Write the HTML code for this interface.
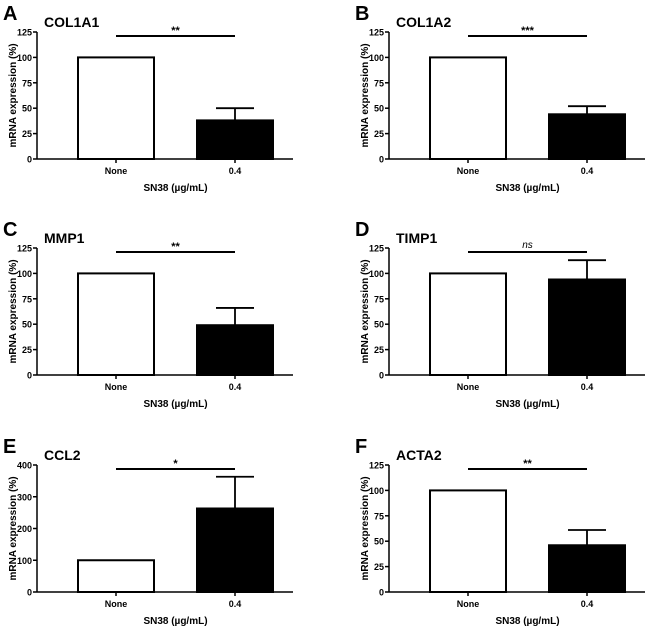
<!DOCTYPE html>
<html><head><meta charset="utf-8"><style>
body{margin:0;background:#fff}
svg{display:block;font-family:"Liberation Sans",Arial,sans-serif;font-weight:bold}
</style></head><body>
<svg id="fig" width="668" height="627" viewBox="0 0 668 627"></svg>
<script>
const panelLetters=["A","B","C","D","E","F"];
const geneNames=["COL1A1","COL1A2","MMP1","TIMP1","CCL2","ACTA2"];
const categories=["None","0.4"];
const controlValues=[100,100,100,100,100,100];
const treatedValues=[38,44,49,94,263,46];
const treatedErrorTop=[50,52,66,113,363,61];
const axisMax=[125,125,125,125,400,125];
const tickStep=[25,25,25,25,100,25];
const sigLabels=["**","***","**","ns","*","**"];
const NS="http://www.w3.org/2000/svg";
const svg=document.getElementById('fig');
function mk(tag,attrs,parent,text){const e=document.createElementNS(NS,tag);for(const k in attrs)e.setAttribute(k,attrs[k]);if(text!==undefined)e.textContent=text;parent.appendChild(e);return e;}
for(let i=0;i<6;i++){
  const ox=(i%2)*352, oy=[0,216,433][Math.floor(i/2)];
  const g=mk('g',{transform:`translate(${ox},${oy})`},svg);
  
  
  const x0=37,xEnd=293,yTop=32,yBot=159;
  const ys=v=>yBot-(v/axisMax[i])*(yBot-yTop);
  const xc=[116,235];
  const L=mk('text',{x:3,y:20,'font-size':20},g,panelLetters[i]);
  
  
  const T=mk('text',{x:44,y:27,'font-size':14},g,geneNames[i]);
  
  
  const yt=mk('text',{transform:`translate(16,${(yTop+yBot)/2}) rotate(-90)`,'text-anchor':'middle','font-size':10},g,'mRNA expression (%)');
  
  
  const ya=mk('line',{x1:x0,y1:yTop,x2:x0,y2:yBot,stroke:'#000','stroke-width':1.5},g);
  
  
  const xa=mk('line',{x1:x0,y1:yBot,x2:xEnd,y2:yBot,stroke:'#000','stroke-width':1.5},g);
  
  
  for(let v=0;v<=axisMax[i];v+=tickStep[i]){
    const y=ys(v);
    mk('line',{x1:x0-4,y1:y,x2:x0,y2:y,stroke:'#000','stroke-width':1.5},g);
    const t=mk('text',{x:x0-5,y:y+3.5,'text-anchor':'end','font-size':9},g,String(v));
    
    
  }
  const vals=[controlValues[i],treatedValues[i]];
  for(let c=0;c<2;c++){
    mk('line',{x1:xc[c],y1:yBot,x2:xc[c],y2:yBot+4,stroke:'#000','stroke-width':1.5},g);
    const b=mk('rect',{x:xc[c]-38,y:ys(vals[c]),width:76,height:yBot-ys(vals[c]),fill:c?'#000':'#fff',stroke:'#000','stroke-width':2},g);
    
    
    const cl=mk('text',{x:xc[c],y:yBot+15,'text-anchor':'middle','font-size':9},g,categories[c]);
    
    
  }
  const eb=mk('path',{d:`M${xc[1]},${ys(treatedValues[i])}V${ys(treatedErrorTop[i])}M${xc[1]-19},${ys(treatedErrorTop[i])}H${xc[1]+19}`,stroke:'#000','stroke-width':1.8,fill:'none'},g);
  
  
  const sl=mk('line',{x1:xc[0],y1:yTop+4,x2:xc[1],y2:yTop+4,stroke:'#000','stroke-width':2},g);
  
  
  const isNs=sigLabels[i]==='ns';
  const st=mk('text',{x:(xc[0]+xc[1])/2,y:isNs?yTop:yTop+2,'text-anchor':'middle','font-size':isNs?10:11,'font-style':isNs?'italic':'normal','font-weight':isNs?'normal':'bold'},g,sigLabels[i]);
  
  
  const xt=mk('text',{x:(xc[0]+xc[1])/2,y:yBot+32,'text-anchor':'middle','font-size':10},g,'SN38 (µg/mL)');
  
  
}
</script>
</body></html>
